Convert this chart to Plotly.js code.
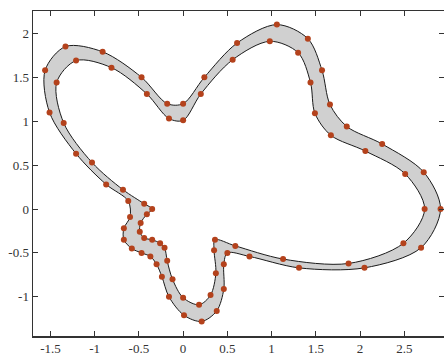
<!DOCTYPE html>
<html>
<head>
<meta charset="utf-8">
<script src="https://cdn.plot.ly/plotly-3.0.1.min.js"></script>
<style>html,body{margin:0;padding:0;background:#fff;}#chart{width:444px;height:355px;}</style>
</head>
<body>
<div id="chart"></div>
<script>
// Outer boundary of the band (clockwise)
const outerX = [-1.56,-1.33,-0.91,-0.47,-0.18,0.00,0.24,0.61,1.06,1.41,1.57,1.66,1.85,2.25,2.72,2.91,2.69,2.05,1.31,0.75,0.50,0.46,0.46,0.38,0.21,0.01,-0.16,-0.24,-0.30,-0.37,-0.47,-0.58,-0.67,-0.67,-0.60,-0.62,-0.87,-1.21,-1.51];
const outerY = [1.58,1.85,1.79,1.50,1.20,1.20,1.50,1.89,2.10,1.94,1.58,1.19,0.94,0.74,0.42,0.00,-0.44,-0.67,-0.67,-0.54,-0.50,-0.63,-0.91,-1.16,-1.28,-1.21,-1.00,-0.77,-0.63,-0.54,-0.50,-0.45,-0.35,-0.22,-0.09,0.09,0.28,0.63,1.10];
// Inner boundary of the band (clockwise)
const innerX = [-1.43,-1.21,-0.81,-0.41,-0.16,0.00,0.20,0.56,0.98,1.30,1.44,1.49,1.67,2.06,2.51,2.73,2.49,1.87,1.13,0.59,0.36,0.35,0.37,0.31,0.18,0.00,-0.12,-0.18,-0.21,-0.26,-0.35,-0.44,-0.49,-0.48,-0.41,-0.35,-0.44,-0.68,-1.03,-1.35];
const innerY = [1.44,1.69,1.61,1.31,1.03,1.01,1.31,1.70,1.91,1.78,1.44,1.09,0.84,0.66,0.40,0.00,-0.39,-0.62,-0.57,-0.42,-0.35,-0.47,-0.73,-0.98,-1.09,-1.01,-0.80,-0.59,-0.44,-0.39,-0.35,-0.33,-0.26,-0.16,-0.06,0.00,0.06,0.22,0.53,0.98];
// Tick labels
const xTickVals = [-1.5,-1,-0.5,0,0.5,1,1.5,2,2.5];
const xTickText = ["-1.5","-1","-0.5","0","0.5","1","1.5","2","2.5"];
const yTickVals = [-1,-0.5,0,0.5,1,1.5,2];
const yTickText = ["-1","-0.5","0","0.5","1","1.5","2"];

const close = a => a.concat([a[0]]);
const lineStyle = {color:'#1a1a1a', width:1, shape:'spline', smoothing:0.9};
const markerStyle = {color:'#b4421c', size:6, line:{width:0}};

const traces = [
  {x: close(outerX), y: close(outerY), mode:'lines', fill:'toself', fillcolor:'#d0d0d0', line: lineStyle, hoverinfo:'skip'},
  {x: close(innerX), y: close(innerY), mode:'lines', fill:'toself', fillcolor:'#ffffff', line: lineStyle, hoverinfo:'skip'},
  {x: outerX, y: outerY, mode:'markers', marker: markerStyle},
  {x: innerX, y: innerY, mode:'markers', marker: markerStyle}
];

const axisCommon = {
  showgrid:false, zeroline:false, showline:true, linecolor:'#333', linewidth:1.5,
  ticks:'inside', ticklen:5, tickwidth:1, tickcolor:'#333', mirror:'ticks',
  tickfont:{family:'"Liberation Serif", "DejaVu Serif", serif', size:13, color:'#333'},
  automargin:false, tickmode:'array'
};

const layout = {
  width:444, height:355,
  margin:{l:33, r:0, t:11, b:19},
  paper_bgcolor:'#fff', plot_bgcolor:'#fff',
  showlegend:false,
  xaxis: Object.assign({}, axisCommon, {range:[-1.697, 2.949], tickvals:xTickVals, ticktext:xTickText}),
  yaxis: Object.assign({}, axisCommon, {range:[-1.446, 2.255], tickvals:yTickVals, ticktext:yTickText})
};

Plotly.newPlot('chart', traces, layout, {displayModeBar:false, staticPlot:true});
</script>
</body>
</html>
